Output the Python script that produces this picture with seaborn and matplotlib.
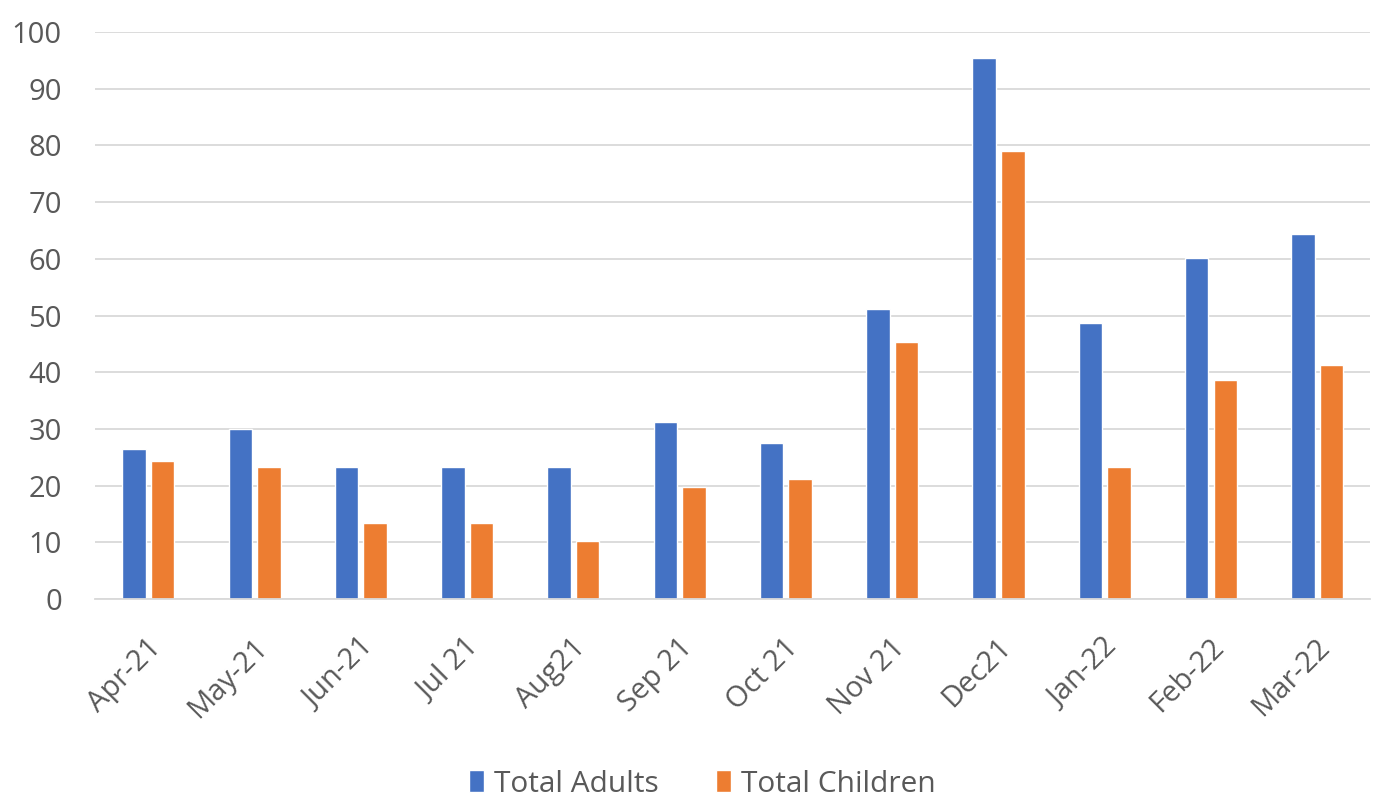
import matplotlib
matplotlib.use("Agg")
import matplotlib.pyplot as plt
import seaborn as sns
import pandas as pd
from matplotlib.patches import Patch

months = ["Apr-21", "May-21", "Jun-21", "Jul 21", "Aug21", "Sep 21", "Oct 21",
          "Nov 21", "Dec21", "Jan-22", "Feb-22", "Mar-22"]
adults = [26.5, 30, 23.3, 23.3, 23.3, 31.2, 27.5, 51.2, 95.5, 48.7, 60.1, 64.4]
children = [24.4, 23.3, 13.4, 13.4, 10.2, 19.8, 21.2, 45.4, 79.1, 23.3, 38.6, 41.3]
series = ["Total Adults", "Total Children"]
colors = ["#4472C4", "#ED7D31"]

df = pd.DataFrame({
    "Month": months * 2,
    "Value": adults + children,
    "Series": [series[0]] * len(months) + [series[1]] * len(months),
})

sns.set_theme(style="white")
plt.rcParams["font.family"] = ["Open Sans", "DejaVu Sans"]

fig = plt.figure(figsize=(13.8, 8.01), dpi=100)
ax = fig.add_axes([0.069, 0.252, 0.924, 0.708])

sns.barplot(data=df, x="Month", y="Value", hue="Series", palette=colors,
            width=0.54, gap=0.18, ax=ax, legend=False, saturation=1)

ax.set_ylim(0, 100)
ax.set_xlim(-0.5, len(months) - 0.5)
ax.set_yticks(range(0, 101, 10))
ax.yaxis.grid(True, color="#D9D9D9", linewidth=1.3)
ax.set_axisbelow(True)
for s in ["top", "right", "left"]:
    ax.spines[s].set_visible(False)
ax.spines["bottom"].set_color("#D9D9D9")
ax.spines["bottom"].set_linewidth(1.3)
ax.set_xlabel("")
ax.set_ylabel("")
ax.tick_params(axis="both", length=0, colors="#595959", labelsize=21)
ax.tick_params(axis="y", pad=24)
ax.set_xticks(range(len(months)))
ax.set_xticklabels(months, rotation=45, ha="right", rotation_mode="anchor")
for lbl in ax.get_xticklabels():
    lbl.set_transform(lbl.get_transform() + matplotlib.transforms.ScaledTranslation(-0.02, -0.29, fig.dpi_scale_trans))

handles = [Patch(facecolor=c, label=s) for c, s in zip(colors, series)]
fig.legend(handles=handles, loc="center", bbox_to_anchor=(0.509, 0.021), ncol=2,
           frameon=False, fontsize=21.5, labelcolor="#595959",
           handlelength=0.5, handleheight=0.75, handletextpad=0.35, columnspacing=1.9)

fig.savefig("out.png", dpi=100, facecolor="white")
